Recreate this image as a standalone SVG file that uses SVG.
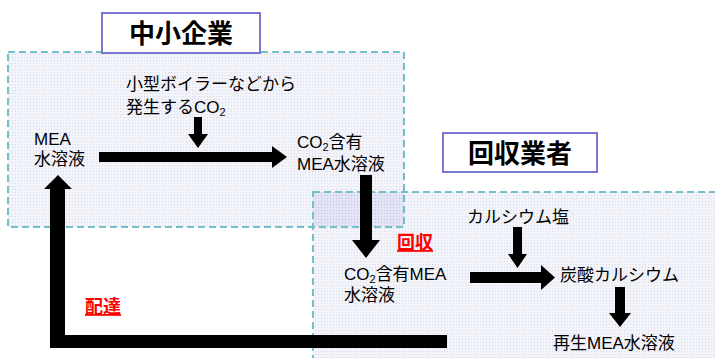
<svg xmlns="http://www.w3.org/2000/svg" width="715" height="358" viewBox="0 0 715 358">
<defs>
<pattern id="dots" width="3" height="3" patternUnits="userSpaceOnUse">
<rect width="3" height="3" fill="#f3f4f9"/>
<rect width="1" height="1" fill="#d6d9ea"/>
</pattern>
<pattern id="dots2" width="3" height="3" patternUnits="userSpaceOnUse">
<rect width="3" height="3" fill="#e3e4f4"/>
<rect width="1" height="1" fill="#c2c4e2"/>
</pattern>
</defs>
<style>
.zone{stroke:#74c0c8;stroke-width:2;stroke-dasharray:7 4;fill:none}
.title{fill:#fff;stroke:#7878d4;stroke-width:2}
.tt{font-family:"Liberation Sans","Noto Sans CJK JP",sans-serif;font-weight:bold;font-size:26px;fill:#000}
.t{font-family:"Liberation Sans","Noto Sans CJK JP",sans-serif;font-size:17px;fill:#000}
.sub{font-size:11px}
.red{font-family:"Liberation Sans","Noto Sans CJK JP",sans-serif;font-weight:bold;font-size:18px;fill:#ff0000;text-decoration:underline}
.arr{fill:#000}
</style>
<g id="zones">
<rect x="8" y="52" width="396" height="175" fill="url(#dots)"/>
<rect x="313" y="192" width="410" height="170" fill="url(#dots)"/>
<rect x="313" y="192" width="91" height="35" fill="url(#dots2)"/>
<rect class="zone" x="8" y="52" width="396" height="175"/>
<rect class="zone" x="313" y="192" width="410" height="170"/>
</g>
<g id="title-sme">
<rect class="title" x="102" y="13" width="158" height="40"/>
<text class="tt" x="181" y="43" text-anchor="middle">中小企業</text>
</g>
<g id="title-collector">
<rect class="title" x="443" y="133" width="154" height="39"/>
<text class="tt" x="520" y="163" text-anchor="middle">回収業者</text>
</g>
<g id="boiler-co2">
<text class="t" x="126" y="90">小型ボイラーなどから</text>
<text class="t" x="126" y="113">発生するCO<tspan class="sub" dy="3">2</tspan></text>
</g>
<g id="mea">
<text class="t" x="34" y="145">MEA</text>
<text class="t" x="34" y="165">水溶液</text>
</g>
<g id="co2-mea-1">
<text class="t" x="297" y="148">CO<tspan class="sub" dy="3">2</tspan><tspan dy="-3">含有</tspan></text>
<text class="t" x="297" y="170">MEA水溶液</text>
</g>
<g id="co2-mea-2">
<text class="t" x="344" y="280">CO<tspan class="sub" dy="3">2</tspan><tspan dy="-3">含有MEA</tspan></text>
<text class="t" x="344" y="301">水溶液</text>
</g>
<g id="calcium-salt">
<text class="t" x="467" y="223">カルシウム塩</text>
</g>
<g id="calcium-carbonate">
<text class="t" x="560" y="281">炭酸カルシウム</text>
</g>
<g id="regen-mea">
<text class="t" x="553" y="349">再生MEA水溶液</text>
</g>
<g id="connectors">
<polygon class="arr" points="99,152 272,152 272,146 287,157 272,168 272,162 99,162"/>
<polygon class="arr" points="194,117 202,117 202,134 208,134 198,148 188,134 194,134"/>
<polygon class="arr" points="360,175 372,175 372,240 380,240 366,258 352,240 360,240"/>
<polygon class="arr" points="470,272 541,272 541,265 555,277.5 541,290 541,283 470,283"/>
<polygon class="arr" points="513,227 522,227 522,254 527,254 517.5,268 508,254 513,254"/>
<polygon class="arr" points="615,287 625,287 625,313 631,313 620,327 609,313 615,313"/>
<polygon class="arr" points="447,335 447,348 50,348 50,189 44,189 58,175 72,189 65,189 65,335"/>
<text class="red" x="397" y="249">回収</text>
<text class="red" x="85" y="313">配達</text>
</g>
</svg>
